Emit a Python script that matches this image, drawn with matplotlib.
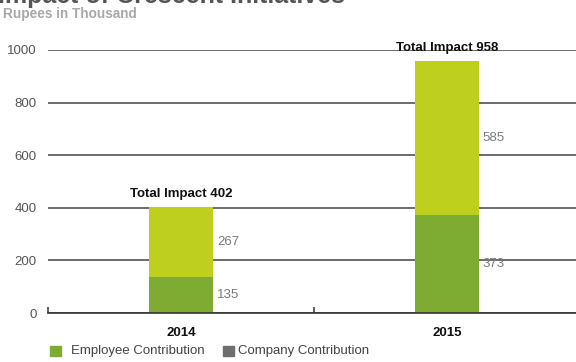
import matplotlib.pyplot as plt

plt.rcParams['font.family'] = ['Liberation Sans', 'DejaVu Sans']

years = ['2014', '2015']
employee = [135, 373]
company = [267, 585]
totals = [e + c for e, c in zip(employee, company)]

light_green = '#bfcf1e'
dark_green = '#7eab32'
company_gray = '#6e6e6e'

fig = plt.figure(figsize=(5.76, 3.62), dpi=100)
ax = fig.add_axes([48 / 576, 49 / 362, 1 - 48 / 576, 263 / 362])

pos = [0, 1]
width = 0.24

# stacked bars: employee share at the bottom, company share on top
ax.bar(pos, employee, width, color=dark_green, zorder=3)
ax.bar(pos, company, width, bottom=employee, color=light_green, zorder=3)

for x, e, c, t in zip(pos, employee, company, totals):
    ax.text(x + width / 2 + 0.015, e / 2, str(e), ha='left', va='center',
            fontsize=9.5, color='#7a7a7a', zorder=4)
    ax.text(x + width / 2 + 0.015, e + c / 2, str(c), ha='left', va='center',
            fontsize=9.5, color='#7a7a7a', zorder=4)
    ax.text(x, t + 28, f'Total Impact {t}', ha='center', va='bottom',
            fontsize=9.5, fontweight='bold', color='#111111', clip_on=False)

ax.set_xlim(-0.5, 1.485)
ax.set_ylim(0, 1000)
ax.set_yticks(range(0, 1001, 200))
ax.yaxis.grid(True, color='#444444', linewidth=1.1, zorder=0)
ax.tick_params(axis='y', length=0, pad=8, labelsize=9.5, labelcolor='#555555')

# year labels under the bars, separator ticks between the bands
ax.set_xticks(pos)
ax.set_xticklabels(years, fontsize=9.5, fontweight='bold', color='#111111')
ax.tick_params(axis='x', length=0, pad=10)
ax.set_xticks([-0.5, 0.5], minor=True)
ax.tick_params(axis='x', which='minor', direction='in', length=4,
               width=1.1, color='#333333')

for side in ['top', 'right', 'left']:
    ax.spines[side].set_visible(False)
ax.spines['bottom'].set_color('#333333')
ax.spines['bottom'].set_linewidth(1.2)
ax.spines['bottom'].set_zorder(5)

fig.text(-0.004, 1 - 3 / 362, 'Impact of Crescent Initiatives', ha='left',
         va='baseline', fontsize=18, fontweight='bold', color='#555555')
fig.text(3 / 576, 1 - 14 / 362, 'Rupees in Thousand', ha='left', va='center',
         fontsize=9.8, fontweight='bold', color='#a8a8a8')

# legend row
legend_items = [('Employee Contribution', dark_green, 50, 71),
                ('Company Contribution', company_gray, 223, 238)]
for label, color, px, tx in legend_items:
    fig.patches.append(plt.Rectangle((px / 576, 1 - 356 / 362), 11 / 576, 10 / 362,
                                     transform=fig.transFigure, color=color))
    fig.text(tx / 576, 1 - 351 / 362, label, ha='left', va='center',
             fontsize=9.5, color='#444444')

fig.savefig('out.png', dpi=100)
